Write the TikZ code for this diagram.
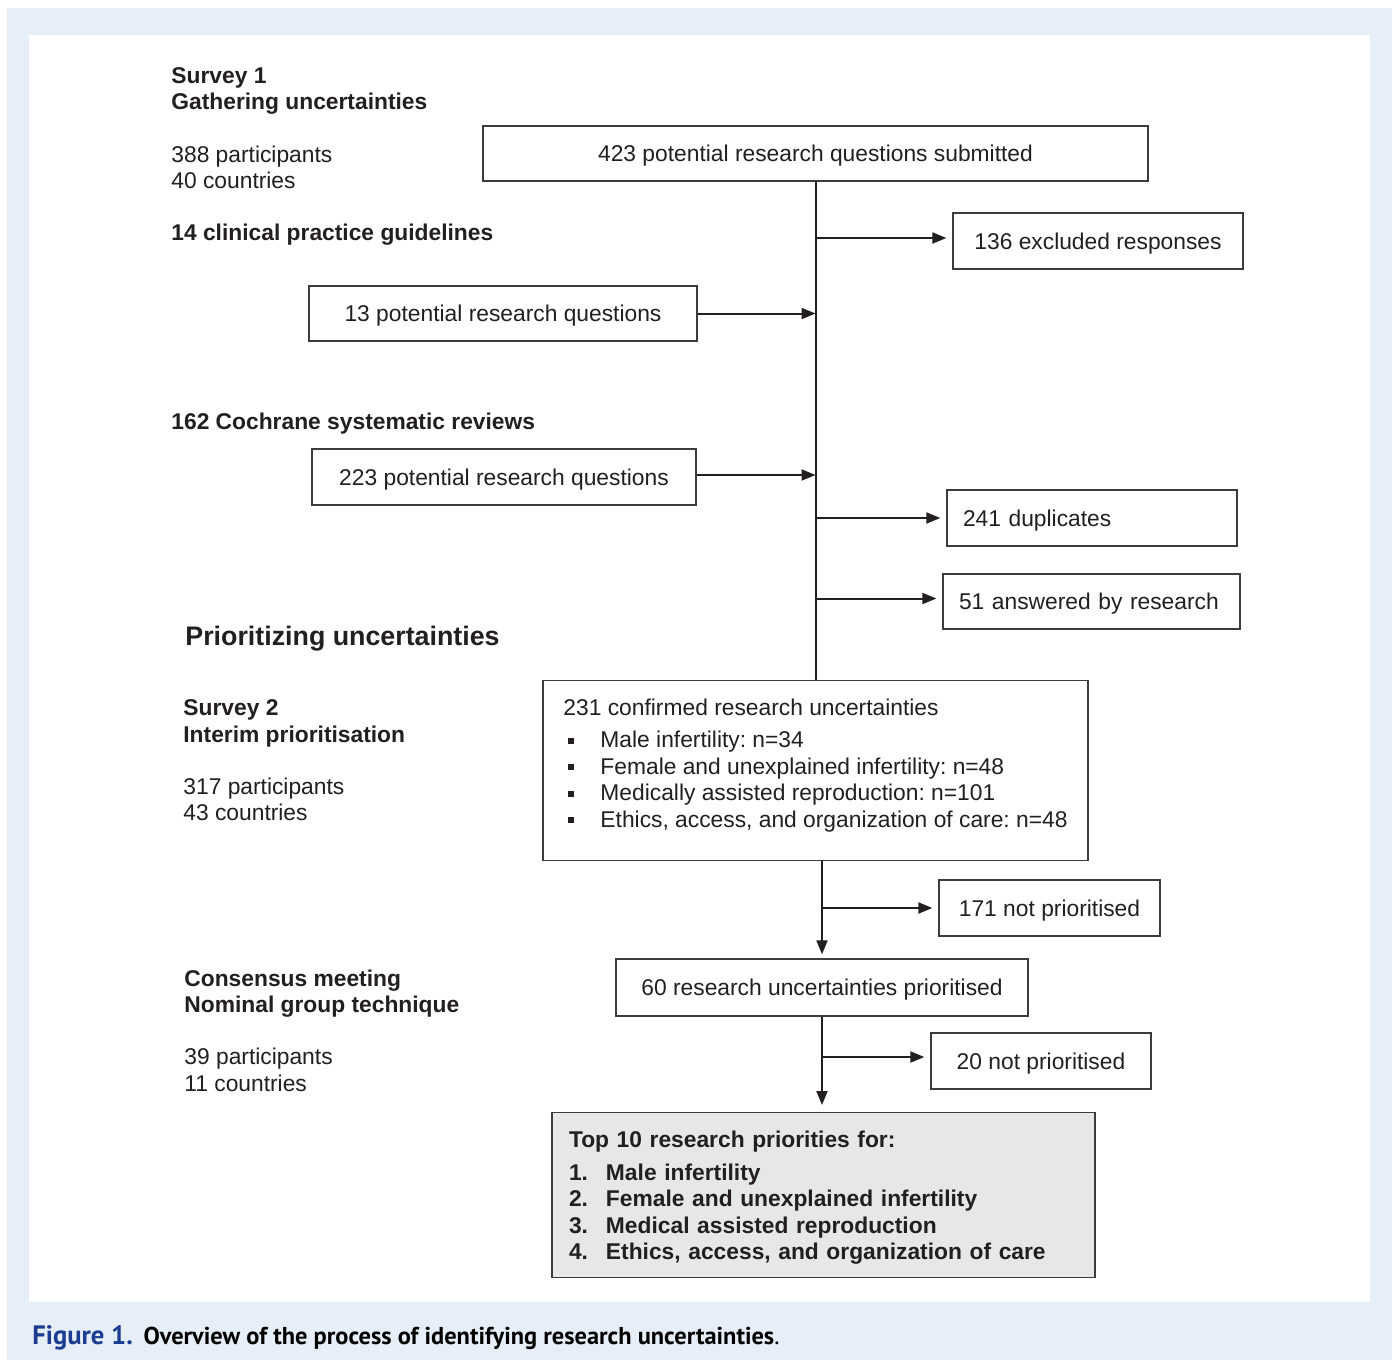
\documentclass[tikz,border=0pt]{standalone}
\usepackage{fontspec}
\setmainfont{Liberation Sans}
\newfontfamily\capfont{PT Sans}
\usepackage{tikz}
\usetikzlibrary{arrows.meta,positioning}
\definecolor{ink}{HTML}{231F20}
\definecolor{frame}{HTML}{3C3C3C}
\definecolor{panel}{HTML}{E6EEF8}
\definecolor{topgray}{HTML}{E6E7E8}
\definecolor{figblue}{HTML}{1B3C90}
\newcommand{\sqbullet}{\hspace*{2.5pt}\makebox[16pt][l]{\rule[2pt]{3pt}{3pt}}}
\newcommand{\rank}[1]{\makebox[18.5pt][l]{#1}}
\frenchspacing

\begin{document}
\begin{tikzpicture}[
  x=0.5pt,y=-0.5pt,
  >={Triangle[length=7pt,width=5.5pt]},
  txt/.style={font=\fontsize{11.4}{13.3}\selectfont,text=ink},
  box/.style={txt,draw=frame,line width=0.65pt,inner sep=0pt,align=center},
  sbox/.style={box,text height=8.2pt,text depth=0pt},
  lbox/.style={sbox,inner xsep=8pt,align=left},
  note/.style={txt,inner sep=0pt,align=left,anchor=west},
  head/.style={note,font=\fontsize{11.4}{13.3}\selectfont\bfseries},
  flow/.style={draw=ink,line width=1pt},
  feed/.style={flow,->},
  side/.style={flow,->,shorten >=3pt}
]
\fill[panel] (7,8) rectangle (1392,1360);
\fill[white] (29,35) rectangle (1370,1302);
\useasboundingbox (0,0) rectangle (1395,1360);

\node[head] (s1) at (171,91) {Survey 1\\Gathering uncertainties};
\node[note] (s1n) at (171,167.5) {388 participants\\40 countries};
\node[head] (cpg) at (171,235) {14 clinical practice guidelines};
\node[head] (crv) at (171,424) {162 Cochrane systematic reviews};
\node[head,font=\fontsize{13.4}{16}\selectfont\bfseries] (prz) at (185,639) {Prioritizing uncertainties};
\node[head] (s2) at (183,723.5) {Survey 2\\Interim prioritisation};
\node[note] (s2n) at (183,799.5) {317 participants\\43 countries};
\node[head] (cm) at (184,993.5) {Consensus meeting\\Nominal group technique};
\node[note] (cmn) at (184,1070) {39 participants\\11 countries};

\node[sbox,minimum width=332.5pt,minimum height=27.5pt] (sub) at (815.5,153.5) {423 potential research questions submitted};
\node[sbox,minimum width=145pt,minimum height=28pt] (excl) at (1098,241) {136 excluded responses};
\node[sbox,minimum width=194pt,minimum height=27.5pt] (guid) at (503,313.5) {13 potential research questions};
\node[sbox,minimum width=192pt,minimum height=28pt] (coch) at (504,477) {223 potential research questions};
\node[lbox,text width=129pt,minimum height=28pt] (dup) at (1092,518) {241 duplicates};
\node[lbox,text width=132.5pt,minimum height=27.5pt] (ans) at (1091.5,601.5) {51 answered by research};
\node[box,anchor=north,minimum width=272.5pt,inner ysep=9.4pt,align=left] (conf) at (815.5,680) {231 confirmed research uncertainties\\[2.5pt]
  \sqbullet Male infertility: n=34\\
  \sqbullet Female and unexplained infertility: n=48\\
  \sqbullet Medically assisted reproduction: n=101\\
  \sqbullet Ethics, access, and organization of care: n=48\rule[-7pt]{0pt}{7pt}};
\node[sbox,minimum width=110.5pt,minimum height=28pt] (notp1) at (1049.5,908) {171 not prioritised};
\node[sbox,minimum width=206pt,minimum height=28.5pt] (prio) at (822,987.5) {60 research uncertainties prioritised};
\node[sbox,minimum width=110pt,minimum height=28pt] (notp2) at (1041,1061) {20 not prioritised};
\node[box,fill=topgray,anchor=north,text width=254.5pt,inner xsep=8.5pt,minimum height=82.5pt,align=left,
  font=\fontsize{11.4}{13.2}\selectfont\bfseries] (top) at (823.5,1112) {Top 10 research priorities for:\\[3.3pt]
  \rank{1.}Male infertility\\
  \rank{2.}Female and unexplained infertility\\
  \rank{3.}Medical assisted reproduction\\
  \raisebox{0pt}[\height][0pt]{\rank{4.}Ethics, access, and organization of care}};

\draw[flow] (sub) -- (conf);
\draw[side] (sub.south |- excl.west) ++(0,-3) -- ([yshift=1.5pt]excl.west);
\draw[feed] (guid) -- (guid -| sub.south);
\draw[feed] ([yshift=1pt]coch.east) -- ([yshift=1pt]coch.east -| sub.south);
\draw[side] (sub.south |- dup.west) -- (dup);
\draw[side] (sub.south |- ans.west) ++(0,-3) -- ([yshift=1.5pt]ans.west);
\draw[feed,shorten >=2pt] (conf.south -| prio.north) -- (prio);
\draw[side] (prio.north |- notp1.west) -- (notp1);
\draw[feed,shorten >=3.5pt] (prio) -- (prio.south |- top.north);
\draw[side] (prio.south |- notp2.west) ++(0,-4) -- ([yshift=2pt]notp2.west);

\node[anchor=base west,inner sep=0pt,font=\capfont\fontsize{13.3}{15}\selectfont\bfseries,text=figblue] (fig) at (32,1344) {Figure 1.};
\node[right=5pt of fig.base east,anchor=base west,inner sep=0pt,font=\capfont\fontsize{12.2}{14}\selectfont,text=black] (cap) {\bfseries Overview of the process of identifying research uncertainties\mdseries.};
\end{tikzpicture}
\end{document}
